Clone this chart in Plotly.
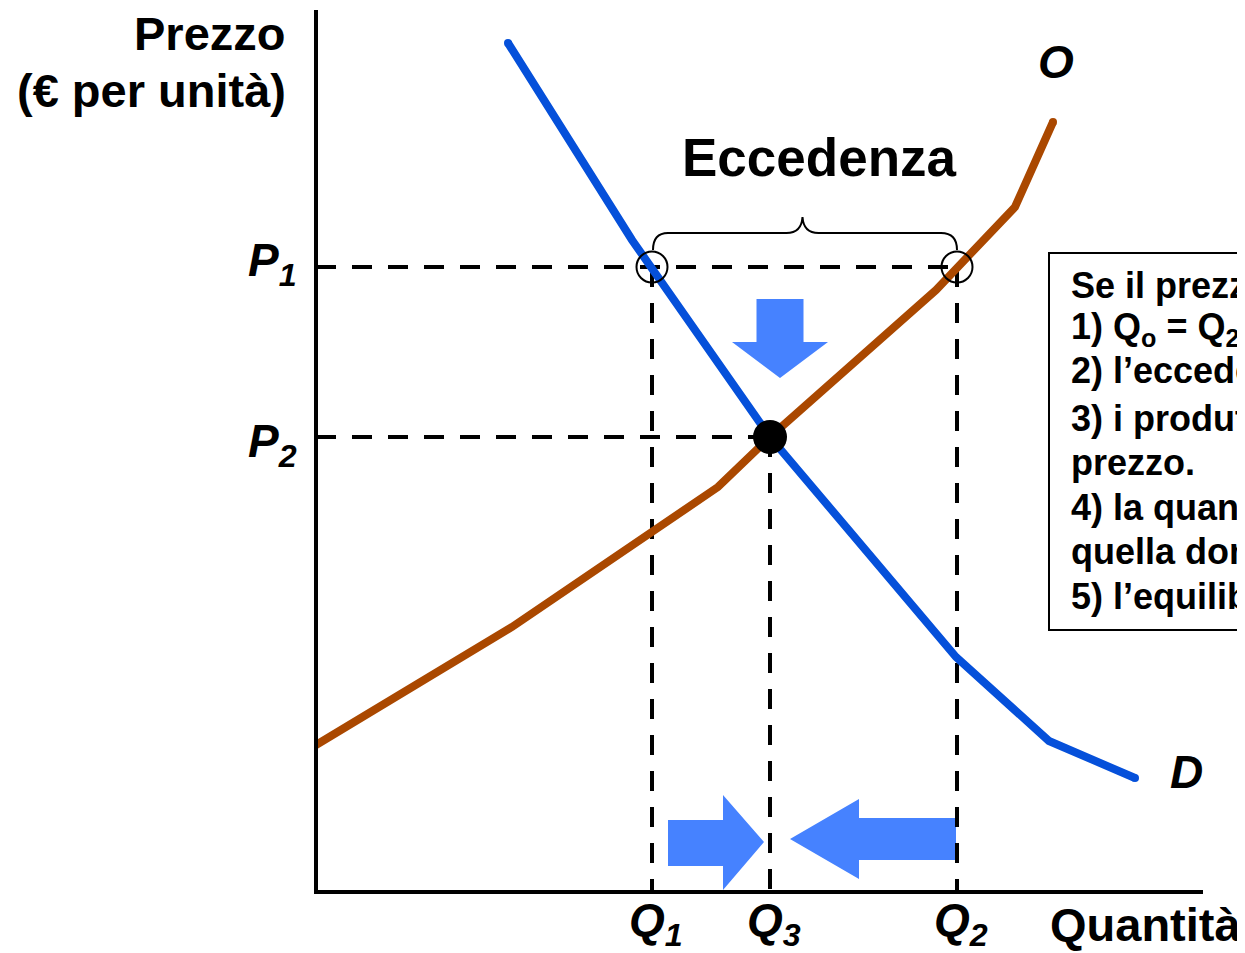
import plotly.graph_objects as go

# ---- data (quantity / price units) ----
demand_q = [19.2, 31.6, 45.4, 64.0, 73.3, 81.9]
demand_p = [84.9, 65.2, 45.5, 23.5, 15.1, 11.4]
supply_q = [0.0, 19.6, 40.2, 45.4, 62.0, 69.9, 73.7]
supply_p = [14.7, 26.5, 40.5, 45.5, 60.2, 68.5, 77.0]
Q1, Q3, Q2 = 33.6, 45.4, 64.1
P1, P2 = 62.5, 45.5
q_labels = ["Q", "Q", "Q"]
q_subs = ["1", "3", "2"]
box_lines = [
    "Se il prezzo è superiore a quello di equilibrio:",
    "1) Q<sub>o</sub> = Q<sub>2</sub> > Q<sub>d</sub> = Q<sub>1</sub>",
    "2) l’eccedenza è Q<sub>2</sub> – Q<sub>1</sub>",
    "3) i produttori abbassano il",
    "prezzo.",
    "4) la quantità offerta diminuisce e",
    "quella domandata aumenta",
    "5) l’equilibrio si raggiunge in E",
]

XR = [-30.8, 92.9]
YR = [-6.1, 88.4]
FONT = "Arial, Liberation Sans, sans-serif"
BLUE = "#0550DA"
ORANGE = "#AA4800"
ARROW = "#4682FF"

fig = go.Figure()

# dashed guide lines
dash = "20px,16px"
for xs, ys in [([0, Q2], [P1, P1]), ([0, Q3], [P2, P2]),
               ([Q1, Q1], [P1, 0]), ([Q3, Q3], [P2, 0]), ([Q2, Q2], [P1, 0])]:
    fig.add_trace(go.Scatter(x=xs, y=ys, mode="lines",
                             line=dict(color="black", width=4, dash=dash),
                             hoverinfo="skip"))

# curves
LW = 8
fig.add_trace(go.Scatter(x=supply_q, y=supply_p, mode="lines",
                         line=dict(color=ORANGE, width=LW), hoverinfo="skip"))
fig.add_trace(go.Scatter(x=demand_q, y=demand_p, mode="lines",
                         line=dict(color=BLUE, width=LW), hoverinfo="skip"))
# round caps
fig.add_trace(go.Scatter(x=[supply_q[-1]], y=[supply_p[-1]], mode="markers",
                         marker=dict(color=ORANGE, size=LW, line=dict(width=0))))
fig.add_trace(go.Scatter(x=[demand_q[0], demand_q[-1]], y=[demand_p[0], demand_p[-1]],
                         mode="markers", marker=dict(color=BLUE, size=LW, line=dict(width=0))))

# circles at P1 and equilibrium dot
fig.add_trace(go.Scatter(x=[Q1, Q2], y=[P1, P1], mode="markers",
                         marker=dict(symbol="circle-open", size=31, color="black",
                                     line=dict(width=2, color="black"))))
fig.add_trace(go.Scatter(x=[Q3], y=[P2], mode="markers",
                         marker=dict(size=34, color="black")))

shapes = []
# axes
shapes.append(dict(type="line", x0=0, x1=0, y0=-0.2, y1=88.2,
                   line=dict(color="black", width=4), layer="above"))
shapes.append(dict(type="line", x0=-0.2, x1=88.7, y0=0, y1=0,
                   line=dict(color="black", width=4), layer="above"))

# brace
b0, b1, b2 = P1 + 1.7, P1 + 3.4, P1 + 5.0
mid = (Q1 + Q2) / 2 - 0.2
brace = (f"M {Q1+0.1},{b0} Q {Q1+0.1},{b1} {Q1+1.6},{b1} L {mid-1.6},{b1} "
         f"Q {mid-0.1},{b1} {mid},{b2} Q {mid+0.1},{b1} {mid+1.6},{b1} "
         f"L {Q2-1.6},{b1} Q {Q2},{b1} {Q2},{b0}")
shapes.append(dict(type="path", path=brace, line=dict(color="black", width=2)))

# blue arrows
cx = 46.4
down = (f"M {cx-2.35},59.3 L {cx+2.35},59.3 L {cx+2.35},55.0 L {cx+4.8},55.0 "
        f"L {cx},51.4 L {cx-4.8},55.0 L {cx-2.35},55.0 Z")
right = ("M 35.2,7.2 L 40.7,7.2 L 40.7,9.7 L 44.8,5.0 L 40.7,0.2 L 40.7,2.6 "
         "L 35.2,2.6 Z")
left = ("M 64.0,7.4 L 54.3,7.4 L 54.3,9.3 L 47.4,5.3 L 54.3,1.3 L 54.3,3.2 "
        "L 64.0,3.2 Z")
for p in (down, right, left):
    shapes.append(dict(type="path", path=p, fillcolor=ARROW,
                       line=dict(width=0), layer="below"))

# text box
shapes.append(dict(type="rect", x0=73.3, x1=100, y0=26.2, y1=63.9,
                   line=dict(color="black", width=2)))

ann = []
def txt(x, y, t, size, xa="center", ya="middle"):
    ann.append(dict(x=x, y=y, xref="x", yref="y", text=t, showarrow=False,
                    xanchor=xa, yanchor=ya,
                    font=dict(family=FONT, size=size, color="black")))

txt(-2.8, 85.9, "<b>Prezzo</b>", 47, xa="right")
txt(-2.8, 80.2, "<b>(€ per unità)</b>", 47, xa="right")
txt(50.3, 73.5, "<b>Eccedenza</b>", 53)
txt(74.0, 83.0, "<b><i>O</i></b>", 46)
txt(87.0, 12.0, "<b><i>D</i></b>", 46)
txt(-1.7, 62.9, "<b><i>P</i><sub><i>1</i></sub></b>", 46, xa="right")
txt(-1.7, 44.8, "<b><i>P</i><sub><i>2</i></sub></b>", 46, xa="right")
for qv, lab, sub in zip([Q1, Q3, Q2], q_labels, q_subs):
    txt(qv + 0.4, -3.1, f"<b><i>{lab}</i><sub><i>{sub}</i></sub></b>", 46)
txt(73.2, -3.2, "<b>Quantità</b>", 47, xa="left")

line_y = [285, 329, 373, 418, 462, 507, 551, 596]
for ly, t in zip(line_y, box_lines):
    txt(75.3, (892 - ly) / 10, f"<b>{t}</b>", 36, xa="left")

fig.update_layout(
    width=1237, height=945, margin=dict(l=0, r=0, t=0, b=0),
    paper_bgcolor="white", plot_bgcolor="white", showlegend=False,
    xaxis=dict(range=XR, visible=False, fixedrange=True),
    yaxis=dict(range=YR, visible=False, fixedrange=True),
    shapes=shapes, annotations=ann,
)
fig.write_html("out.html")
